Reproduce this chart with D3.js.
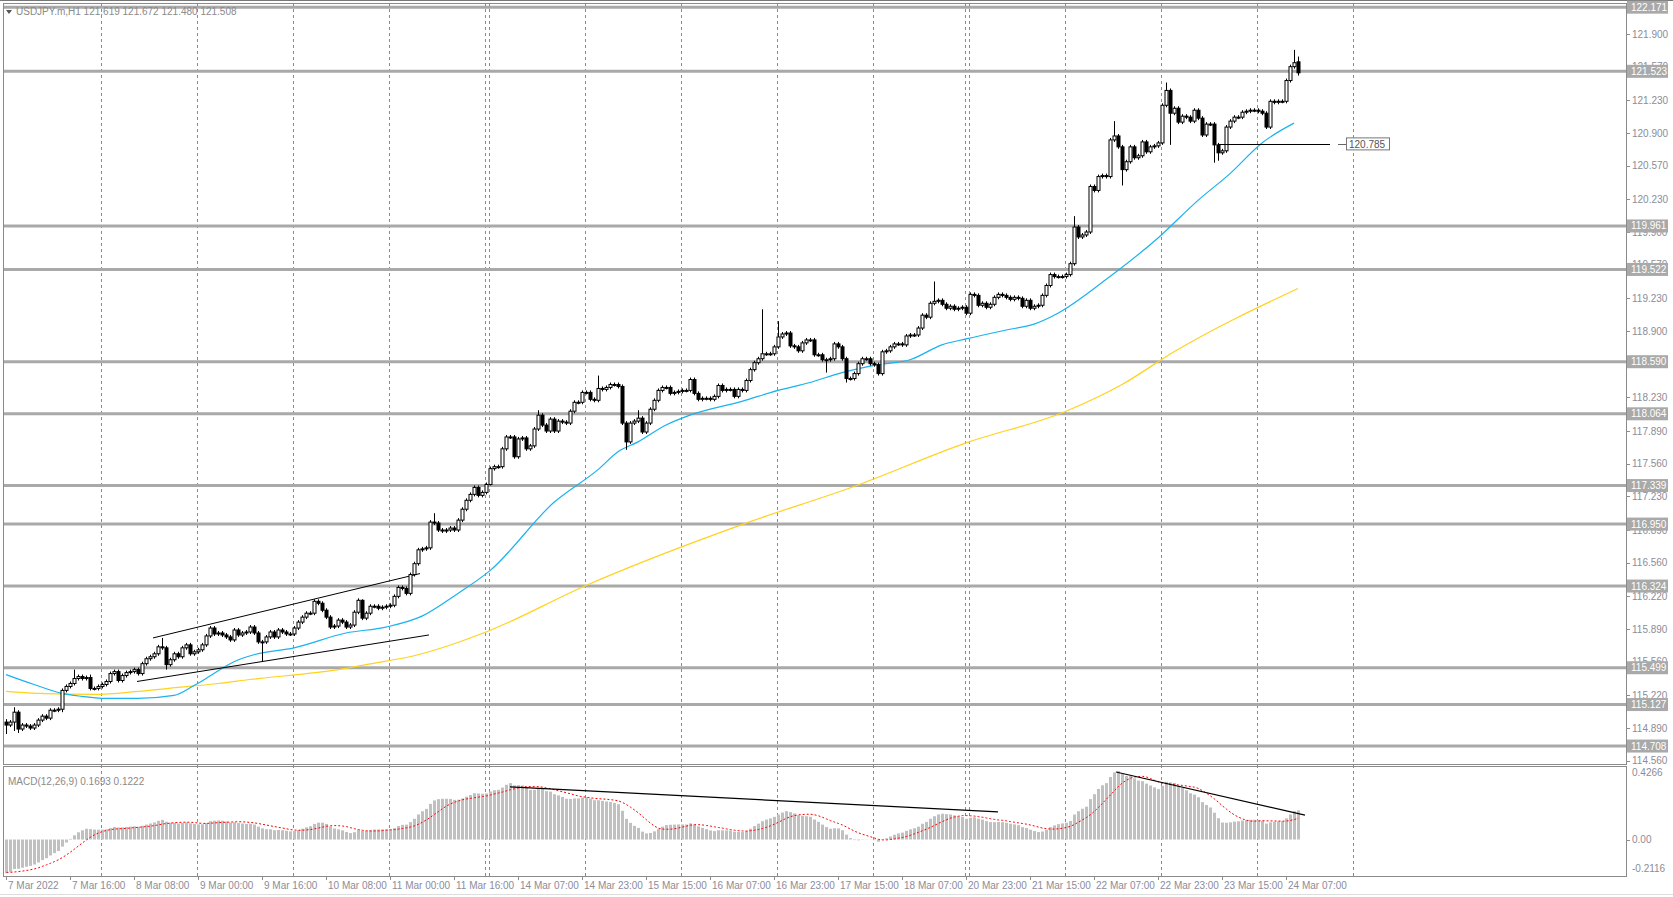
<!DOCTYPE html>
<html>
<head>
<meta charset="utf-8">
<script src="https://cdn.jsdelivr.net/npm/d3@7.9.0/dist/d3.min.js"></script>
<style>
  html, body { margin: 0; padding: 0; background: #fff; }
  svg { display: block; font-family: "Liberation Sans", Arial, sans-serif; }
</style>
</head>
<body>
<svg id="chart" width="1673" height="897"></svg>
<script>
// hourly closes, 7 Mar 2022 00:00 -> 24 Mar 09:00
const closes = [
  114.92,114.95,115.05,114.88,114.92,114.91,114.89,114.92,114.97,115.01,
  114.99,115.07,115.07,115.08,115.27,115.31,115.34,115.39,115.41,115.39,
  115.40,115.29,115.29,115.31,115.33,115.36,115.44,115.46,115.37,115.42,
  115.45,115.46,115.48,115.44,115.54,115.59,115.61,115.64,115.71,115.70,
  115.53,115.58,115.64,115.61,115.70,115.73,115.64,115.66,115.68,115.73,
  115.82,115.90,115.84,115.85,115.83,115.81,115.78,115.88,115.83,115.85,
  115.86,115.91,115.85,115.76,115.76,115.81,115.86,115.81,115.88,115.86,
  115.84,115.84,115.90,115.96,116.01,116.05,116.05,116.17,116.15,116.08,
  116.01,115.91,115.92,115.98,115.96,115.91,115.93,116.06,116.18,116.00,
  116.05,116.12,116.12,116.10,116.11,116.12,116.13,116.22,116.31,116.30,
  116.25,116.44,116.55,116.69,116.70,116.71,116.97,116.96,116.89,116.88,
  116.89,116.91,116.89,116.99,117.10,117.19,117.25,117.32,117.24,117.27,
  117.35,117.51,117.53,117.53,117.71,117.83,117.83,117.63,117.81,117.82,
  117.71,117.74,117.91,118.05,117.95,117.89,118.01,117.89,117.99,117.98,
  117.97,118.09,118.18,118.18,118.28,118.28,118.21,118.20,118.32,118.31,
  118.33,118.36,118.36,118.34,117.97,117.78,117.97,117.99,118.02,117.88,
  117.97,118.11,118.20,118.30,118.33,118.33,118.27,118.28,118.29,118.30,
  118.30,118.41,118.27,118.21,118.22,118.22,118.21,118.24,118.35,118.30,
  118.31,118.31,118.24,118.31,118.30,118.40,118.51,118.58,118.62,118.67,
  118.67,118.67,118.74,118.84,118.87,118.88,118.75,118.74,118.70,118.78,
  118.81,118.81,118.66,118.66,118.61,118.61,118.62,118.77,118.74,118.62,
  118.42,118.42,118.47,118.57,118.62,118.62,118.57,118.56,118.47,118.69,
  118.70,118.74,118.77,118.77,118.76,118.85,118.86,118.86,118.93,119.06,
  119.04,119.18,119.20,119.21,119.17,119.13,119.15,119.12,119.13,119.14,
  119.08,119.27,119.26,119.16,119.18,119.14,119.17,119.24,119.27,119.26,
  119.24,119.22,119.24,119.23,119.15,119.21,119.13,119.15,119.16,119.26,
  119.36,119.47,119.45,119.45,119.45,119.47,119.58,119.95,119.85,119.87,
  119.90,120.36,120.32,120.46,120.47,120.46,120.83,120.87,120.76,120.53,
  120.61,120.76,120.65,120.67,120.81,120.71,120.76,120.77,120.80,121.18,
  121.33,121.10,121.15,121.01,121.07,121.06,121.02,121.13,121.05,120.88,
  120.99,120.99,120.78,120.70,120.72,120.96,121.02,121.06,121.06,121.11,
  121.12,121.13,121.13,121.12,121.10,120.96,121.22,121.21,121.22,121.22,
  121.43,121.57,121.61,121.508
];
const firstOpen = 114.95;
const lastOpen = 121.619;
// visible wick extremes (bar index -> price)
const highs = { 0:114.98, 2:115.10, 17:115.48, 21:115.43, 39:115.80, 89:116.19, 107:117.06,
  133:118.10, 148:118.45, 158:118.10, 189:119.12, 193:119.00, 232:119.40, 267:120.06,
  277:121.02, 290:121.41, 322:121.74, 323:121.672 };
const lows = { 0:114.83, 2:114.86, 3:114.84, 14:115.05, 40:115.48, 64:115.56, 121:117.34,
  155:117.70, 205:118.48, 210:118.38, 279:120.37, 289:120.78, 291:120.78, 302:120.60,
  303:120.62, 323:121.480 };

// moving averages read at a few bars: [bar, price]
const maBlue = [[0,115.43],[7,115.33],[14,115.24],[19,115.21],[24,115.19],[33,115.19],[42,115.22],
  [47,115.32],[50,115.39],[57,115.56],[62,115.63],[72,115.70],[85,115.85],[95,115.91],[104,116.02],
  [113,116.25],[121,116.48],[137,117.17],[148,117.50],[153,117.68],[158,117.78],[165,117.95],
  [171,118.05],[184,118.19],[193,118.30],[201,118.38],[209,118.48],[218,118.56],[226,118.61],
  [234,118.76],[240,118.82],[250,118.91],[257,118.97],[263,119.08],[275,119.42],[288,119.84],
  [298,120.22],[306,120.49],[314,120.80],[322,121.00]];
const maYellow = [[0,115.26],[8,115.24],[22,115.23],[33,115.26],[43,115.30],[53,115.34],[61,115.38],
  [83,115.48],[90,115.53],[103,115.63],[120,115.86],[145,116.33],[185,116.96],[212,117.33],
  [240,117.77],[265,118.09],[279,118.36],[292,118.69],[323,119.33]];

const levels = [122.171,121.523,119.961,119.522,118.590,118.064,117.339,116.950,116.324,115.499,115.127,114.708];
const priceTicks = [121.9,121.57,121.23,120.9,120.57,120.23,119.9,119.57,119.23,118.9,118.56,118.23,
  117.89,117.56,117.23,116.89,116.56,116.22,115.89,115.56,115.22,114.89,114.56];
const dateLabels = ['7 Mar 2022','7 Mar 16:00','8 Mar 08:00','9 Mar 00:00','9 Mar 16:00','10 Mar 08:00',
  '11 Mar 00:00','11 Mar 16:00','14 Mar 07:00','14 Mar 23:00','15 Mar 15:00','16 Mar 07:00',
  '16 Mar 23:00','17 Mar 15:00','18 Mar 07:00','20 Mar 23:00','21 Mar 15:00','22 Mar 07:00',
  '22 Mar 23:00','23 Mar 15:00','24 Mar 07:00'];
const gridBars = [23.75,47.75,71.75,95.75,119.75,120.75,144.75,168.75,192.75,216.75,239.75,240.75,
  264.75,288.75,312.75,336.75];
// trendlines: [bar, price] pairs
const trendMain = [[[36.75,115.80],[103.5,116.45]], [[32.75,115.36],[105.75,115.83]]];
const trendMacd = [[[126,0.305],[248,0.160]], [[277.5,0.392],[324.75,0.142]]];
const markPrice = 120.785, markFrom = 303, markTo = 331;

const svg = d3.select('#chart');
const L = 3, R = 1626, T = 3, B = 764, MT = 766, MB = 876;

const x = d3.scaleLinear().domain([0, 1]).range([6, 10]);
const y = d3.scaleLinear().domain([114.56, 121.9]).range([760.7, 34]);
const ym = d3.scaleLinear().domain([-0.2116, 0.4266]).range([MB, MT]);

// candles
const bars = closes.map((c, i) => {
  const o = i === 0 ? firstOpen : (i === closes.length - 1 ? lastOpen : closes[i - 1]);
  const h = highs[i] ?? Math.max(o, c) + 0.02;
  const l = lows[i] ?? Math.min(o, c) - 0.02;
  return { i, o, h, l, c };
});

// MACD(12,26,9) from closes, seeded with the pre-chart trend
const k12 = 2 / 13, k26 = 2 / 27;
let e12 = 115.05, e26 = 115.25;
const macd = closes.map(c => {
  e12 += k12 * (c - e12);
  e26 += k26 * (c - e26);
  return e12 - e26;
});
const hist9 = Array(8).fill(-0.19).concat(macd);
const signal = macd.map((_, i) => d3.mean(hist9.slice(i, i + 9)));

svg.append('defs').append('clipPath').attr('id', 'mainClip')
  .append('rect').attr('x', L).attr('y', T).attr('width', R - L).attr('height', B - T);

// grid
svg.append('g').selectAll('line').data(gridBars).join('line')
  .attr('x1', d => Math.round(x(d)) + 0.5).attr('x2', d => Math.round(x(d)) + 0.5)
  .attr('y1', T).attr('y2', MB)
  .attr('stroke', '#8a8a8a').attr('stroke-dasharray', '3,3');

// levels
svg.append('g').selectAll('line').data(levels).join('line')
  .attr('x1', L).attr('x2', R).attr('y1', d => y(d)).attr('y2', d => y(d))
  .attr('stroke', '#a9a9a9').attr('stroke-width', 3);

const main = svg.append('g').attr('clip-path', 'url(#mainClip)');

const maLine = d3.line().x(d => x(d[0])).y(d => y(d[1])).curve(d3.curveMonotoneX);
main.append('path').attr('d', maLine(maYellow)).attr('fill', 'none').attr('stroke', '#ffd21f').attr('stroke-width', 1.2);
main.append('path').attr('d', maLine(maBlue)).attr('fill', 'none').attr('stroke', '#1ab2ef').attr('stroke-width', 1.2);

// trend lines
main.selectAll('line.tr').data(trendMain).join('line').attr('class', 'tr')
  .attr('x1', d => x(d[0][0])).attr('y1', d => y(d[0][1]))
  .attr('x2', d => x(d[1][0])).attr('y2', d => y(d[1][1]))
  .attr('stroke', '#000').attr('stroke-width', 1);

const cg = main.append('g');
cg.selectAll('line').data(bars).join('line')
  .attr('x1', d => x(d.i) + 0.5).attr('x2', d => x(d.i) + 0.5)
  .attr('y1', d => y(d.h)).attr('y2', d => y(d.l))
  .attr('stroke', '#000');
cg.selectAll('rect').data(bars).join('rect')
  .attr('x', d => x(d.i) - 1).attr('width', 3)
  .attr('y', d => y(Math.max(d.o, d.c)))
  .attr('height', d => Math.max(1, Math.abs(y(d.o) - y(d.c))))
  .attr('fill', d => d.c >= d.o ? '#fff' : '#000')
  .attr('stroke', '#000').attr('stroke-width', 1);

// 120.785 marker
main.append('line').attr('x1', x(markFrom)).attr('x2', x(markTo))
  .attr('y1', Math.round(y(markPrice)) + 0.5).attr('y2', Math.round(y(markPrice)) + 0.5)
  .attr('stroke', '#000');
svg.append('line').attr('x1', x(markTo) + 8).attr('x2', x(markTo) + 16)
  .attr('y1', Math.round(y(markPrice)) + 0.5).attr('y2', Math.round(y(markPrice)) + 0.5)
  .attr('stroke', '#666');
svg.append('rect').attr('x', x(markTo) + 16.5).attr('y', y(markPrice) - 6.5)
  .attr('width', 43).attr('height', 12).attr('fill', '#fff').attr('stroke', '#777');
svg.append('text').attr('x', x(markTo) + 19).attr('y', y(markPrice) + 4)
  .attr('font-size', 10).attr('fill', '#555').text(markPrice.toFixed(3));

// MACD panel
const mg = svg.append('g');
mg.selectAll('rect').data(macd).join('rect')
  .attr('x', (d, i) => x(i) - 1).attr('width', 3)
  .attr('y', d => Math.min(ym(d), ym(0)))
  .attr('height', d => Math.abs(ym(d) - ym(0)))
  .attr('fill', '#c0c0c0');
mg.append('path')
  .attr('d', d3.line().x((d, i) => x(i) + 0.5).y(d => ym(d))(signal))
  .attr('fill', 'none').attr('stroke', '#ff0000').attr('stroke-width', 1).attr('stroke-dasharray', '2,2');
mg.selectAll('line.tm').data(trendMacd).join('line').attr('class', 'tm')
  .attr('x1', d => x(d[0][0])).attr('y1', d => ym(d[0][1]))
  .attr('x2', d => x(d[1][0])).attr('y2', d => ym(d[1][1]))
  .attr('stroke', '#000').attr('stroke-width', 1.2);

// frames
svg.append('rect').attr('x', L + 0.5).attr('y', T + 0.5).attr('width', R - L).attr('height', B - T)
  .attr('fill', 'none').attr('stroke', '#8a8a8a');
svg.append('rect').attr('x', L + 0.5).attr('y', MT + 0.5).attr('width', R - L).attr('height', MB - MT)
  .attr('fill', 'none').attr('stroke', '#8a8a8a');
svg.append('line').attr('x1', 0).attr('x2', 1673).attr('y1', 0.5).attr('y2', 0.5).attr('stroke', '#777');
svg.append('line').attr('x1', 0).attr('x2', 1673).attr('y1', 894.5).attr('y2', 894.5).attr('stroke', '#ddd');

// price axis
const axisColor = '#8c8c99';
const pa = svg.append('g').attr('font-size', 10).attr('fill', axisColor);
pa.selectAll('line').data(priceTicks).join('line')
  .attr('x1', R).attr('x2', R + 4).attr('y1', d => Math.round(y(d)) + 0.5).attr('y2', d => Math.round(y(d)) + 0.5)
  .attr('stroke', axisColor);
pa.selectAll('text').data(priceTicks).join('text')
  .attr('x', R + 6).attr('y', d => y(d) + 3.5).text(d => d.toFixed(3));

const lv = svg.append('g').attr('font-size', 10);
lv.selectAll('rect').data(levels).join('rect')
  .attr('x', R + 1).attr('y', d => y(d) - 6.5).attr('width', 41).attr('height', 13).attr('fill', '#a9a9a9');
lv.selectAll('text').data(levels).join('text')
  .attr('x', R + 5).attr('y', d => y(d) + 3.5).attr('fill', '#fff').text(d => d.toFixed(3));

const macdTicks = [0.4266, 0, -0.2116];
svg.append('g').attr('font-size', 10).attr('fill', axisColor)
  .selectAll('text').data(macdTicks).join('text')
  .attr('x', R + 6).attr('y', (d, i) => i === 0 ? MT + 10 : (i === 2 ? MB - 4 : ym(d) + 3.5))
  .text(d => d === 0 ? '0.00' : d.toString());
svg.append('line').attr('x1', R).attr('x2', R + 4).attr('y1', Math.round(ym(0)) + 0.5).attr('y2', Math.round(ym(0)) + 0.5).attr('stroke', axisColor);

// time axis
const ta = svg.append('g').attr('font-size', 10).attr('fill', axisColor);
ta.selectAll('line').data(dateLabels).join('line')
  .attr('x1', (d, i) => Math.round(x(i * 16)) + 0.5).attr('x2', (d, i) => Math.round(x(i * 16)) + 0.5)
  .attr('y1', MB).attr('y2', MB + 4).attr('stroke', axisColor);
ta.selectAll('text').data(dateLabels).join('text')
  .attr('x', (d, i) => x(i * 16) + 2).attr('y', 889).text(d => d);

// headers
svg.append('path').attr('d', 'M6,10 L12,10 L9,14 Z').attr('fill', '#555');
svg.append('text').attr('x', 16).attr('y', 15).attr('font-size', 10).attr('fill', '#8a8a8a')
  .text('USDJPY.m,H1  121.619 121.672 121.480 121.508');
svg.append('text').attr('x', 8).attr('y', 785).attr('font-size', 10).attr('fill', '#8a8a8a')
  .text('MACD(12,26,9) 0.1693 0.1222');
</script>
</body>
</html>
